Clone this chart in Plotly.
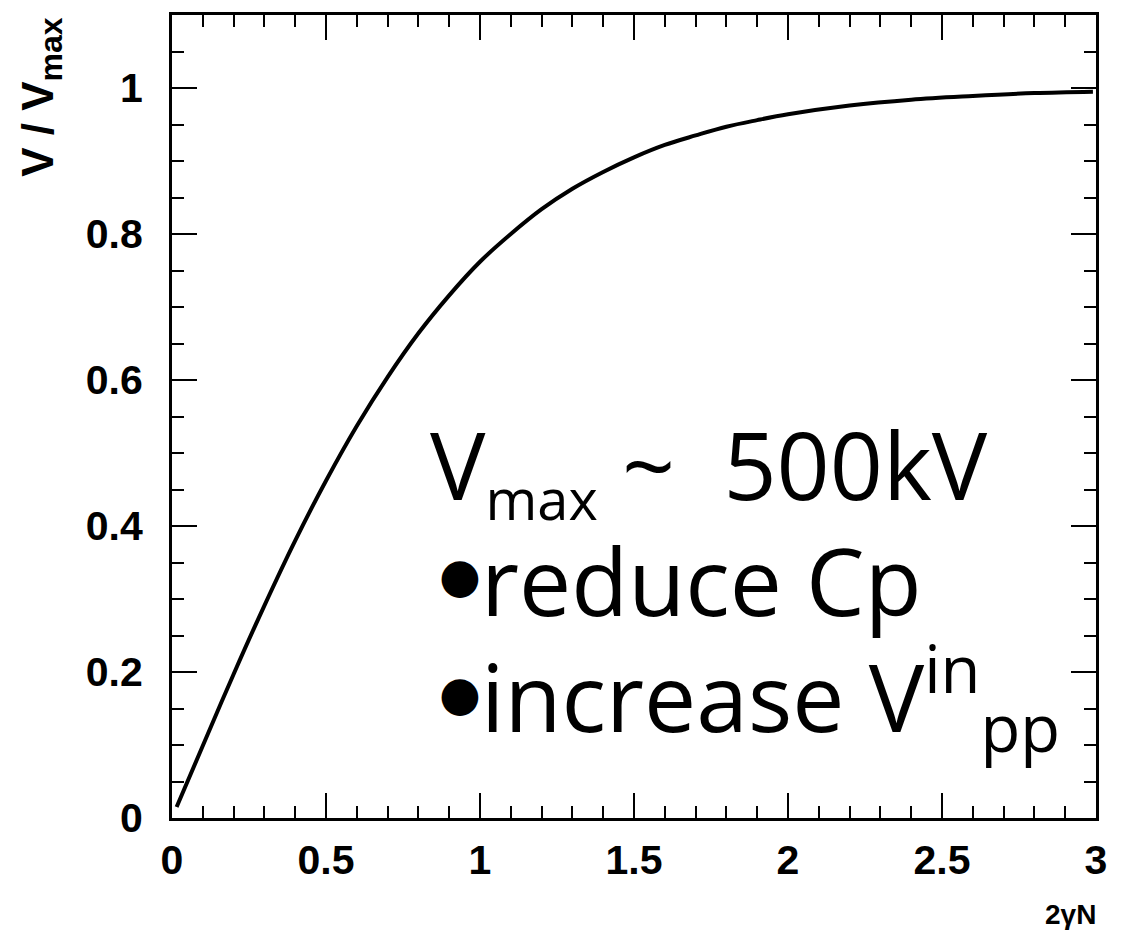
import plotly.graph_objects as go

# Normalised output voltage versus 2*gamma*N
x_vals = [0.015, 0.1, 0.2, 0.3, 0.4, 0.5, 0.6, 0.7, 0.8, 0.9, 1.0, 1.1, 1.2,
          1.3, 1.4, 1.5, 1.6, 1.7, 1.8, 1.9, 2.0, 2.2, 2.4, 2.6, 2.8, 2.99]
v_ratio = [0.015, 0.099, 0.197, 0.291, 0.380, 0.462, 0.537, 0.604, 0.664,
           0.716, 0.762, 0.800, 0.834, 0.862, 0.885, 0.905, 0.922, 0.935,
           0.947, 0.956, 0.964, 0.976, 0.984, 0.989, 0.993, 0.995]

x_ticks = [0, 0.5, 1, 1.5, 2, 2.5, 3]
x_tick_text = ["0", "0.5", "1", "1.5", "2", "2.5", "3"]
y_ticks = [0, 0.2, 0.4, 0.6, 0.8, 1.0]
y_tick_text = ["0", "0.2", "0.4", "0.6", "0.8", "1"]

headline = "V<sub><span style='font-size:56px'>max</span></sub> ~&nbsp; 500kV"
bullet_items = ["reduce Cp", "increase V<sup>in</sup><sub>pp</sub>"]
headline_y = 0.383
item_y = [0.237, 0.062]
bullet_y = [0.333, 0.171]

label_font = dict(family="Liberation Sans, Arial, sans-serif", size=41,
                  color="black", weight="bold")
note_font = dict(family="Open Sans, sans-serif", size=93, color="black")

fig = go.Figure()
fig.add_trace(go.Scatter(
    x=x_vals, y=v_ratio, mode="lines",
    line=dict(color="black", width=4, shape="spline"),
    showlegend=False, hoverinfo="skip",
))

axis_common = dict(
    showgrid=False, zeroline=False, showline=True, linecolor="black",
    linewidth=3, mirror="allticks", ticks="inside", ticklen=25,
    tickwidth=2, tickcolor="black", tickfont=label_font,
)

fig.update_xaxes(
    range=[0, 3], tickvals=x_ticks, ticktext=x_tick_text,
    minor=dict(dtick=0.1, ticks="inside", ticklen=12, tickwidth=2,
               tickcolor="black", showgrid=False),
    ticklabelstandoff=4, **axis_common,
)
fig.update_yaxes(
    range=[0, 1.1], tickvals=y_ticks, ticktext=y_tick_text,
    minor=dict(dtick=0.05, ticks="inside", ticklen=12, tickwidth=2,
               tickcolor="black", showgrid=False),
    ticklabelstandoff=18, **axis_common,
)

# Axis titles, aligned to the ends of the axes
fig.add_annotation(
    text="V / V<sub><span style='font-size:32px'>max</span></sub>",
    xref="paper", yref="paper",
    x=-0.142, y=1.0, xanchor="center", yanchor="top", textangle=-90,
    showarrow=False,
    font=dict(family="Liberation Sans, Arial, sans-serif", size=44,
              color="black", weight="bold"),
)
fig.add_annotation(
    text="2γN", xref="paper", yref="paper",
    x=1.002, y=-0.098, xanchor="right", yanchor="top", showarrow=False,
    font=dict(family="Liberation Sans, Arial, sans-serif", size=28,
              color="black", weight="bold"),
)

# Text box: headline plus two bulleted items
fig.add_annotation(
    text=headline, x=0.83, y=headline_y, xref="x", yref="y",
    xanchor="left", yanchor="bottom", showarrow=False, font=note_font,
)
for txt, yv, by in zip(bullet_items, item_y, bullet_y):
    fig.add_annotation(
        text="●", x=0.86, y=by, xref="x", yref="y",
        xanchor="left", yanchor="middle", showarrow=False,
        font=dict(family="DejaVu Sans, sans-serif", size=48, color="black"),
    )
    fig.add_annotation(
        text=txt, x=0.998, y=yv, xref="x", yref="y",
        xanchor="left", yanchor="bottom", showarrow=False, font=note_font,
    )

fig.update_layout(
    width=1126, height=939,
    margin=dict(l=172, r=30, t=13, b=121),
    paper_bgcolor="white", plot_bgcolor="white",
)

fig.write_html("out.html")
